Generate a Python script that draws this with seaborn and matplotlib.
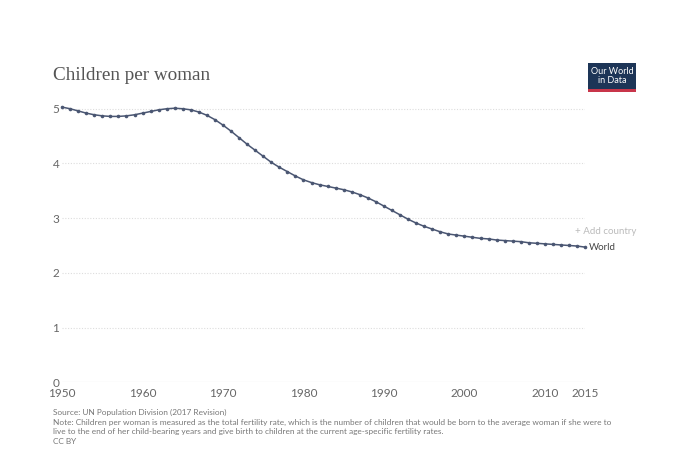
import numpy as np
import pandas as pd
import matplotlib.pyplot as plt
import seaborn as sns
from matplotlib.patches import Rectangle

# world fertility rate
years = list(range(1950, 2016))
children = [5.03, 5.00, 4.96, 4.92, 4.89, 4.87, 4.86, 4.86, 4.87, 4.89,
            4.92, 4.95, 4.98, 5.00, 5.01, 5.00, 4.98, 4.94, 4.88, 4.80,
            4.70, 4.59, 4.47, 4.35, 4.24, 4.13, 4.02, 3.93, 3.85, 3.77,
            3.70, 3.65, 3.61, 3.58, 3.55, 3.52, 3.48, 3.43, 3.37, 3.30,
            3.22, 3.14, 3.06, 2.98, 2.91, 2.85, 2.80, 2.75, 2.71, 2.69,
            2.67, 2.65, 2.63, 2.62, 2.60, 2.59, 2.58, 2.57, 2.55, 2.54,
            2.53, 2.52, 2.51, 2.50, 2.49, 2.47]
xticks = [1950, 1960, 1970, 1980, 1990, 2000, 2010, 2015]
yticks = [0, 1, 2, 3, 4, 5]

df = pd.DataFrame({'Year': years, 'Children': children})

sns.set_style('white')
plt.rcParams['font.family'] = ['Lato', 'DejaVu Sans']

fig = plt.figure(figsize=(6.9, 4.65), dpi=100)
ax = fig.add_axes([0.09, 0.178, 0.758, 0.594])

line_col = '#4a5672'
sns.lineplot(data=df, x='Year', y='Children', ax=ax, color=line_col,
             linewidth=1.1, marker='o', markersize=2.6, markeredgewidth=0,
             clip_on=False)

ax.set_xlim(1950, 2015)
ax.set_ylim(0, 5.05)
ax.set_xticks(xticks)
ax.set_yticks(yticks)
ax.set_xlabel('')
ax.set_ylabel('')
for s in ax.spines.values():
    s.set_visible(False)

for v in yticks[1:]:
    ax.axhline(v, color='#dddddd', linewidth=0.8, linestyle=(0, (1, 1.5)), zorder=0)
ax.axhline(0, color='#cccccc', linewidth=0.8, zorder=0)

ax.tick_params(axis='both', length=0, labelsize=8.5, labelcolor='#666666')
ax.tick_params(axis='y', pad=2)
ax.tick_params(axis='x', pad=4)

# title
fig.text(0.077, 0.828, 'Children per woman', fontsize=13.8, color='#555555',
         family=['Liberation Serif', 'DejaVu Serif'])

# logo
fig.patches.append(Rectangle((0.852, 0.808), 0.070, 0.057, transform=fig.transFigure,
                             facecolor='#1d3557', edgecolor='none'))
fig.patches.append(Rectangle((0.852, 0.802), 0.070, 0.007, transform=fig.transFigure,
                             facecolor='#c8354a', edgecolor='none'))
fig.text(0.887, 0.837, 'Our World\nin Data', fontsize=6.5, color='white',
         ha='center', va='center', linespacing=0.95)

# labels at the line end
ax.annotate('World', xy=(years[-1], children[-1]), xytext=(3, 0),
            textcoords='offset points', fontsize=7, color='#444444',
            va='center', ha='left', annotation_clip=False)
fig.text(0.833, 0.503, '+ Add country', fontsize=7, color='#bbbbbb', va='center')

# footer
foot = ('Source: UN Population Division (2017 Revision)\n'
        'Note: Children per woman is measured as the total fertility rate, which is the number of children '
        'that would be born to the average woman if she were to\n'
        'live to the end of her child-bearing years and give birth to children at the current age-specific '
        'fertility rates.\n'
        'CC BY')
fig.text(0.077, 0.12, foot, fontsize=5.95, color='#777777', va='top', linespacing=1.4)

fig.savefig('out.png', dpi=100)
